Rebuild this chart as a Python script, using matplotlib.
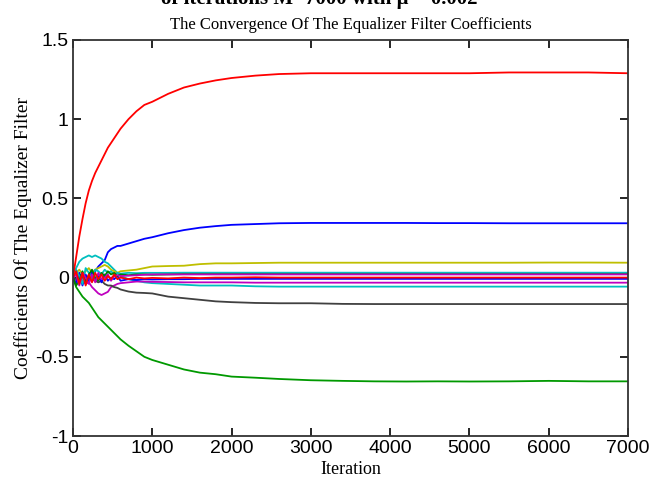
import matplotlib
matplotlib.use('Agg')
import matplotlib.pyplot as plt

# iteration grid (denser at the start where the taps wander)
iters = [0, 40, 80, 120, 160, 200, 240, 280, 320, 360, 400, 440, 480, 520, 560, 600,
         700, 800, 900, 1000, 1200, 1400, 1600, 1800, 2000, 2300, 2600, 3000, 3400,
         3800, 4200, 4600, 5000, 5500, 6000, 6500, 7000]

# coefficient trajectories
coef_b1 = [0, 0.02, -0.01, 0.01, -0.02, 0.0, 0.02, 0.04, 0.07, 0.09, 0.11, 0.16, 0.18, 0.19, 0.20, 0.20,
           0.215, 0.23, 0.245, 0.255, 0.28, 0.30, 0.315, 0.325, 0.333, 0.338, 0.343, 0.345, 0.345,
           0.345, 0.345, 0.344, 0.344, 0.343, 0.343, 0.343, 0.343]
coef_g1 = [0, -0.06, -0.09, -0.12, -0.14, -0.16, -0.19, -0.22, -0.25, -0.27, -0.29, -0.31, -0.33, -0.35, -0.37, -0.39,
           -0.43, -0.465, -0.50, -0.52, -0.55, -0.58, -0.60, -0.61, -0.625, -0.632, -0.64, -0.648, -0.652,
           -0.655, -0.656, -0.655, -0.656, -0.655, -0.652, -0.655, -0.655]
coef_r1 = [0, 0.13, 0.26, 0.37, 0.47, 0.55, 0.61, 0.66, 0.70, 0.74, 0.78, 0.82, 0.85, 0.88, 0.91, 0.94,
           1.00, 1.05, 1.09, 1.11, 1.16, 1.20, 1.225, 1.245, 1.26, 1.275, 1.285, 1.29, 1.29,
           1.29, 1.29, 1.29, 1.29, 1.295, 1.295, 1.295, 1.29]
coef_c1 = [0, 0.06, 0.10, 0.12, 0.13, 0.14, 0.13, 0.14, 0.13, 0.12, 0.10, 0.09, 0.07, 0.05, 0.03, 0.01,
           -0.01, -0.02, -0.03, -0.035, -0.04, -0.045, -0.05, -0.05, -0.05, -0.055, -0.057, -0.057, -0.057,
           -0.057, -0.057, -0.057, -0.057, -0.057, -0.057, -0.057, -0.057]
coef_m1 = [0, -0.03, 0.02, -0.02, -0.04, -0.03, -0.06, -0.08, -0.10, -0.11, -0.10, -0.09, -0.06, -0.05, -0.04, -0.035,
           -0.03, -0.025, -0.025, -0.027, -0.028, -0.03, -0.03, -0.03, -0.03, -0.032, -0.032, -0.032, -0.032,
           -0.032, -0.032, -0.032, -0.032, -0.032, -0.032, -0.032, -0.032]
coef_y1 = [0, 0.03, 0.05, 0.02, 0.04, 0.06, 0.03, 0.05, 0.06, 0.07, 0.08, 0.07, 0.05, 0.04, 0.03, 0.04,
           0.045, 0.05, 0.06, 0.07, 0.073, 0.075, 0.085, 0.09, 0.09, 0.092, 0.094, 0.094, 0.094,
           0.094, 0.094, 0.094, 0.094, 0.094, 0.095, 0.095, 0.094]
coef_k1 = [0, -0.01, 0.02, 0.0, -0.02, 0.01, -0.01, -0.02, -0.03, -0.02, -0.04, -0.05, -0.05, -0.06, -0.065, -0.075,
           -0.088, -0.095, -0.097, -0.10, -0.12, -0.13, -0.14, -0.15, -0.155, -0.16, -0.162, -0.162, -0.166,
           -0.167, -0.167, -0.167, -0.167, -0.167, -0.167, -0.167, -0.167]
coef_b2 = [0, -0.04, 0.03, -0.05, 0.02, -0.03, 0.04, -0.02, 0.01, -0.03, 0.02, -0.02, 0.0, -0.01, 0.01, -0.02,
           -0.01, -0.015, -0.01, -0.012, -0.01, -0.01, -0.008, -0.008, -0.008, -0.008, -0.008, -0.008, -0.008,
           -0.008, -0.008, -0.008, -0.008, -0.008, -0.008, -0.008, -0.008]
coef_g2 = [0, -0.05, -0.02, 0.04, -0.03, 0.02, 0.05, 0.0, -0.02, 0.03, 0.01, 0.04, 0.02, 0.03, 0.01, 0.02,
           0.015, 0.02, 0.02, 0.018, 0.02, 0.022, 0.022, 0.022, 0.022, 0.022, 0.022, 0.022, 0.022,
           0.022, 0.022, 0.022, 0.022, 0.022, 0.022, 0.022, 0.022]
coef_r2 = [0, 0.04, -0.04, 0.03, -0.05, 0.02, -0.03, 0.03, -0.01, 0.02, -0.02, 0.01, -0.01, 0.02, -0.01, 0.0,
           -0.01, 0.0, -0.005, -0.002, -0.005, 0.0, -0.003, 0.0, 0.0, 0.002, 0.0, 0.0, 0.0,
           0.0, 0.0, 0.0, 0.0, 0.0, 0.0, 0.0, 0.0]
coef_c2 = [0, 0.05, 0.01, -0.04, 0.06, 0.03, -0.02, 0.05, 0.04, 0.02, 0.05, 0.03, 0.04, 0.02, 0.03, 0.025,
           0.03, 0.028, 0.03, 0.03, 0.03, 0.031, 0.031, 0.031, 0.031, 0.031, 0.031, 0.031, 0.031,
           0.031, 0.031, 0.031, 0.031, 0.031, 0.031, 0.031, 0.031]
coef_m2 = [0, 0.02, -0.05, 0.03, 0.0, -0.04, 0.02, -0.03, 0.03, -0.01, 0.0, 0.02, -0.02, 0.01, 0.015, 0.01,
           0.012, 0.015, 0.018, 0.02, 0.02, 0.02, 0.02, 0.02, 0.02, 0.02, 0.02, 0.02, 0.02,
           0.02, 0.02, 0.02, 0.02, 0.02, 0.02, 0.02, 0.02]

# MATLAB's old default colour order
series = [
    (coef_b1, (0, 0, 1)),
    (coef_g1, (0, 0.6, 0)),
    (coef_c1, (0, 0.75, 0.75)),
    (coef_m1, (0.75, 0, 0.75)),
    (coef_y1, (0.75, 0.75, 0)),
    (coef_k1, (0.25, 0.25, 0.25)),
    (coef_b2, (0, 0, 1)),
    (coef_c2, (0, 0.75, 0.75)),
    (coef_g2, (0, 0.5, 0)),
    (coef_m2, (0.75, 0, 0.75)),
    (coef_r2, (1, 0, 0)),
    (coef_r1, (1, 0, 0)),
]

fig = plt.figure(figsize=(6.51, 4.9), dpi=100, facecolor='white')
ax = fig.add_axes([0.1121, 0.1102, 0.8526, 0.8082])

for vals, col in series:
    ax.plot(iters, vals, color=col, lw=1.3)

ax.set_xlim(0, 7000)
ax.set_ylim(-1, 1.5)
ax.set_xticks(range(0, 7001, 1000))
ax.set_yticks([-1, -0.5, 0, 0.5, 1, 1.5])
ax.set_yticklabels(['-1', '-0.5', '0', '0.5', '1', '1.5'])
ax.tick_params(direction='in', length=6, width=1.2, top=True, right=True,
               labelsize=14, pad=3, colors='black')
for lab in ax.get_xticklabels() + ax.get_yticklabels():
    lab.set_family('Liberation Sans')
for sp in ax.spines.values():
    sp.set_linewidth(1.3)
    sp.set_color('#333333')

ax.set_xlabel('Iteration', family='Liberation Serif', fontsize=13, labelpad=3)
ax.set_ylabel('Coefficients Of The Equalizer Filter', family='Liberation Serif',
              fontsize=14, labelpad=2)
ax.set_title('The Convergence Of The Equalizer Filter Coefficients',
             family='Liberation Serif', fontsize=12, pad=8)

# caption line of the source page, cut by the top edge as in the scan
fig.text(0.49, 1.003, 'of iterations M=7000 with \u03bc = 0.002', family='Liberation Serif',
         fontsize=15, fontweight='bold', ha='center', va='center')

fig.savefig('out.png', dpi=100, facecolor='white')
plt.close(fig)
